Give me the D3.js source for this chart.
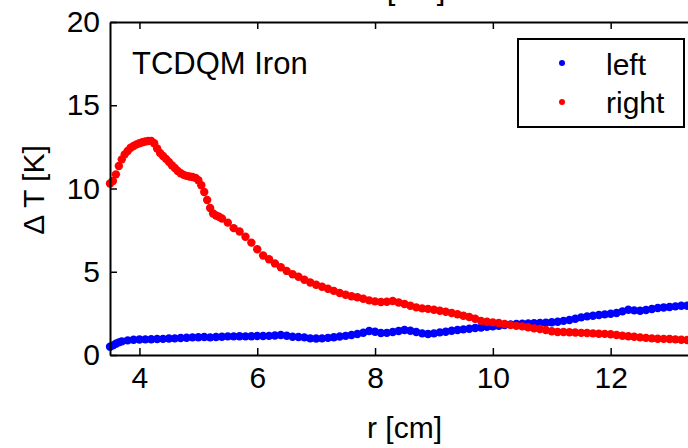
<!DOCTYPE html>
<html>
<head>
<meta charset="utf-8">
<script src="https://cdn.jsdelivr.net/npm/d3@7"></script>
<style>
  body { margin: 0; background: #fff; }
  svg { display: block; font-family: "Liberation Sans", Arial, sans-serif; }
</style>
</head>
<body>
<svg id="chart" width="688" height="448"></svg>
<script>
// values: [r (cm), dT (K)]
const leftSeries = [
  [3.50, 0.50], [3.55, 0.58], [3.60, 0.68], [3.65, 0.76], [3.70, 0.82], [3.80, 0.88],
  [3.90, 0.92], [4.00, 0.93], [4.10, 0.94], [4.20, 0.95], [4.30, 0.96], [4.40, 0.97],
  [4.50, 0.99], [4.60, 1.00], [4.70, 1.02], [4.80, 1.04], [4.90, 1.06], [5.00, 1.07],
  [5.10, 1.08], [5.20, 1.06], [5.30, 1.08], [5.40, 1.10], [5.50, 1.12], [5.60, 1.12],
  [5.70, 1.13], [5.80, 1.12], [5.90, 1.13], [6.00, 1.14], [6.10, 1.14], [6.20, 1.15],
  [6.30, 1.17], [6.40, 1.20], [6.50, 1.16], [6.60, 1.10], [6.70, 1.08], [6.80, 1.06],
  [6.90, 1.00], [7.00, 0.99], [7.10, 1.00], [7.20, 1.03], [7.30, 1.07], [7.40, 1.11],
  [7.50, 1.15], [7.60, 1.20], [7.70, 1.26], [7.80, 1.34], [7.90, 1.44], [8.00, 1.40],
  [8.10, 1.32], [8.20, 1.33], [8.30, 1.38], [8.40, 1.44], [8.50, 1.50], [8.60, 1.46],
  [8.70, 1.38], [8.80, 1.30], [8.90, 1.26], [9.00, 1.30], [9.10, 1.36], [9.20, 1.40],
  [9.30, 1.46], [9.40, 1.50], [9.50, 1.54], [9.60, 1.58], [9.70, 1.62], [9.80, 1.65],
  [9.90, 1.70], [10.0, 1.73], [10.1, 1.76], [10.2, 1.80], [10.3, 1.84], [10.4, 1.86],
  [10.5, 1.88], [10.6, 1.90], [10.7, 1.91], [10.8, 1.92], [10.9, 1.94], [11.0, 1.97],
  [11.1, 2.00], [11.2, 2.05], [11.3, 2.10], [11.4, 2.18], [11.5, 2.26], [11.6, 2.32],
  [11.7, 2.36], [11.8, 2.40], [11.9, 2.44], [12.0, 2.48], [12.1, 2.52], [12.2, 2.62],
  [12.3, 2.72], [12.4, 2.68], [12.5, 2.66], [12.6, 2.70], [12.7, 2.76], [12.8, 2.82],
  [12.9, 2.85], [13.0, 2.88], [13.1, 2.92], [13.2, 2.96], [13.3, 2.96], [13.4, 2.95]
];

const rightSeries = [
  [3.50, 10.30], [3.55, 10.45], [3.60, 10.85], [3.65, 11.35], [3.70, 11.75], [3.75, 12.05],
  [3.80, 12.25], [3.85, 12.45], [3.90, 12.55], [3.95, 12.65], [4.00, 12.72], [4.05, 12.78],
  [4.10, 12.82], [4.15, 12.85], [4.20, 12.85], [4.25, 12.72], [4.30, 12.40], [4.35, 12.13],
  [4.40, 11.95], [4.45, 11.78], [4.50, 11.60], [4.55, 11.40], [4.60, 11.23], [4.65, 11.05],
  [4.70, 10.92], [4.75, 10.82], [4.80, 10.76], [4.85, 10.72], [4.90, 10.69], [4.95, 10.64],
  [5.00, 10.50], [5.05, 10.20], [5.10, 9.79], [5.15, 9.31], [5.20, 8.83], [5.25, 8.50],
  [5.30, 8.38], [5.35, 8.30], [5.40, 8.20], [5.50, 7.95], [5.60, 7.62], [5.70, 7.42],
  [5.80, 7.10], [5.90, 6.75], [6.00, 6.35], [6.10, 5.98], [6.20, 5.75], [6.30, 5.50],
  [6.40, 5.27], [6.50, 5.05], [6.60, 4.85], [6.70, 4.70], [6.80, 4.52], [6.90, 4.35],
  [7.00, 4.22], [7.10, 4.10], [7.20, 3.98], [7.30, 3.85], [7.40, 3.72], [7.50, 3.62],
  [7.60, 3.53], [7.70, 3.47], [7.80, 3.38], [7.90, 3.28], [8.00, 3.22], [8.10, 3.18],
  [8.20, 3.20], [8.30, 3.24], [8.40, 3.15], [8.50, 3.06], [8.60, 2.96], [8.70, 2.86],
  [8.80, 2.80], [8.90, 2.77], [9.00, 2.72], [9.10, 2.66], [9.20, 2.60], [9.30, 2.52],
  [9.40, 2.45], [9.50, 2.36], [9.60, 2.28], [9.70, 2.18], [9.80, 2.05], [9.90, 2.00],
  [10.0, 1.96], [10.1, 1.92], [10.2, 1.86], [10.3, 1.80], [10.4, 1.75], [10.5, 1.72],
  [10.6, 1.67], [10.7, 1.60], [10.8, 1.56], [10.9, 1.50], [11.0, 1.43], [11.1, 1.38],
  [11.2, 1.38], [11.3, 1.37], [11.4, 1.35], [11.5, 1.33], [11.6, 1.32], [11.7, 1.30],
  [11.8, 1.28], [11.9, 1.27], [12.0, 1.25], [12.1, 1.20], [12.2, 1.16], [12.3, 1.13],
  [12.4, 1.10], [12.5, 1.06], [12.6, 1.03], [12.7, 1.00], [12.8, 0.98], [12.9, 0.97],
  [13.0, 0.96], [13.1, 0.94], [13.2, 0.92], [13.3, 0.90], [13.4, 0.88]
];

const xTicks = [4, 6, 8, 10, 12];
const yTicks = [0, 5, 10, 15, 20];
const seriesNames = ['left', 'right'];
const seriesColors = ['#0000ff', '#ff0000'];

const margin = { left: 110, top: 22, bottom: 355, right: 699 };
const svg = d3.select('#chart');

const x = d3.scaleLinear().domain([3.5, 13.5]).range([margin.left, margin.right]);
const y = d3.scaleLinear().domain([0, 20]).range([margin.bottom, margin.top]);

// title, mostly above the visible area (only the bracket feet show)
svg.append('text')
  .attr('x', (margin.left + margin.right) / 2 + 3)
  .attr('y', -1)
  .attr('text-anchor', 'middle')
  .style('font-size', '31px')
  .text('t [ms]');

// series
[leftSeries, rightSeries].forEach((data, i) => {
  svg.append('g')
    .selectAll('circle')
    .data(data)
    .enter()
    .append('circle')
    .attr('cx', (d) => x(d[0]))
    .attr('cy', (d) => y(d[1]))
    .attr('r', 4.2)
    .style('fill', seriesColors[i]);
});

// axes with inward ticks
const fontSize = '30px';

const xAxis = svg.append('g')
  .attr('transform', `translate(0, ${margin.bottom})`)
  .call(d3.axisBottom(x).tickValues(xTicks).tickSizeInner(-7).tickSizeOuter(0).tickPadding(12));

const xTop = svg.append('g')
  .attr('transform', `translate(0, ${margin.top})`)
  .call(d3.axisTop(x).tickValues(xTicks).tickSizeInner(-7).tickSizeOuter(0).tickFormat(''));

const yAxis = svg.append('g')
  .attr('transform', `translate(${margin.left}, 0)`)
  .call(d3.axisLeft(y).tickValues(yTicks).tickSizeInner(-7).tickSizeOuter(0).tickPadding(10));

const yRight = svg.append('g')
  .attr('transform', `translate(${margin.right}, 0)`)
  .call(d3.axisRight(y).tickValues(yTicks).tickSizeInner(-7).tickSizeOuter(0).tickFormat(''));

[xAxis, xTop, yAxis, yRight].forEach((g) => {
  g.select('.domain').style('stroke', '#000').style('stroke-width', 2);
  g.selectAll('.tick line').style('stroke', '#000').style('stroke-width', 1.5);
  g.selectAll('.tick text')
    .style('font-size', fontSize)
    .style('font-family', '"Liberation Sans", Arial, sans-serif')
    .style('fill', '#000');
});

// axis labels
svg.append('text')
  .attr('x', (margin.left + margin.right) / 2)
  .attr('y', 438)
  .attr('text-anchor', 'middle')
  .style('font-size', fontSize)
  .text('r [cm]');

svg.append('text')
  .attr('transform', 'translate(44, 190) rotate(-90)')
  .attr('text-anchor', 'middle')
  .style('font-size', fontSize)
  .text('Δ T [K]');

// annotation
svg.append('text')
  .attr('x', 132)
  .attr('y', 74)
  .style('font-size', '31px')
  .text('TCDQM Iron');

// legend
const legend = svg.append('g');

legend.append('rect')
  .attr('x', 518)
  .attr('y', 39)
  .attr('width', 166)
  .attr('height', 88)
  .style('fill', '#fff')
  .style('stroke', '#000')
  .style('stroke-width', 2);

seriesNames.forEach((name, i) => {
  legend.append('circle')
    .attr('cx', 562)
    .attr('cy', 63 + i * 39)
    .attr('r', 3)
    .style('fill', seriesColors[i]);

  legend.append('text')
    .attr('x', 606)
    .attr('y', 75 + i * 38)
    .style('font-size', fontSize)
    .text(name);
});
</script>
</body>
</html>
